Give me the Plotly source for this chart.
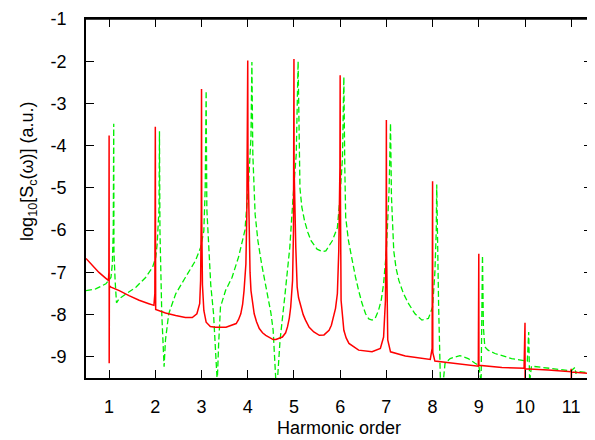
import plotly.graph_objects as go

# Red (solid) spectrum: harmonic order vs log10 S_c
red_x = [0.50, 0.64, 0.78, 0.93, 0.985, 0.995, 1.000, 1.002, 1.006, 1.04, 1.22, 1.43, 1.65, 1.86, 1.97, 1.99,
         2.000, 2.008, 2.22, 2.44, 2.65, 2.80, 2.90, 2.96, 2.98, 2.995, 3.000, 3.005, 3.02, 3.05, 3.10, 3.19,
         3.30, 3.53, 3.75, 3.80, 3.85, 3.89, 3.92, 3.94, 3.96, 3.98, 3.995, 4.000, 4.005, 4.03, 4.05, 4.07,
         4.10, 4.14, 4.19, 4.25, 4.32, 4.39, 4.55, 4.61, 4.75, 4.82, 4.86, 4.90, 4.93, 4.95, 4.97, 4.99,
         4.997, 5.000, 5.003, 5.04, 5.055, 5.07, 5.10, 5.15, 5.20, 5.25, 5.33, 5.43, 5.55, 5.65, 5.76, 5.81,
         5.86, 5.90, 5.94, 5.97, 5.995, 6.000, 6.005, 6.02, 6.05, 6.08, 6.13, 6.19, 6.40, 6.69, 6.87, 6.94,
         6.98, 6.995, 7.000, 7.005, 7.03, 7.09, 7.41, 7.95, 7.99, 8.000, 8.005, 8.05, 8.13, 8.50, 8.99, 9.000,
         9.003, 9.50, 9.98, 10.000, 10.002, 10.006, 10.50, 10.995, 11.000, 11.003, 11.006, 11.45]
red_y = [-6.67, -6.84, -7.00, -7.14, -7.19, -7.00, -3.76, -9.15, -7.32, -7.35, -7.43, -7.55, -7.66, -7.74, -7.78, -7.50,
         -3.55, -7.88, -7.96, -8.02, -8.07, -8.07, -7.98, -7.74, -7.19, -5.50, -2.66, -5.80, -7.30, -7.90, -8.18, -8.28,
         -8.30, -8.30, -8.21, -8.12, -7.98, -7.75, -7.43, -7.15, -6.80, -5.62, -4.00, -1.98, -4.30, -6.41, -7.00, -7.43,
         -7.72, -7.98, -8.17, -8.33, -8.43, -8.49, -8.59, -8.59, -8.53, -8.43, -8.29, -8.08, -7.82, -7.55, -7.19, -6.02,
         -4.50, -1.95, -4.50, -6.41, -6.95, -7.35, -7.60, -7.82, -8.00, -8.13, -8.30, -8.41, -8.49, -8.48, -8.37, -8.25,
         -8.06, -7.85, -7.50, -6.49, -4.50, -2.33, -5.00, -7.66, -8.10, -8.37, -8.55, -8.68, -8.84, -8.88, -8.80, -8.53,
         -7.66, -6.00, -3.39, -6.50, -8.60, -8.88, -8.98, -9.06, -8.80, -4.84, -8.90, -9.10, -9.11, -9.16, -9.22, -6.56,
         -9.20, -9.25, -9.27, -8.19, -9.60, -9.28, -9.31, -9.35, -9.28, -9.60, -9.36, -9.40]

# Green (dashed) spectrum
green_x = [0.50, 0.71, 0.93, 1.04, 1.07, 1.09, 1.10, 1.105, 1.13, 1.16, 1.22, 1.36, 1.58, 1.79, 1.94, 2.01,
           2.04, 2.08, 2.09, 2.10, 2.14, 2.19, 2.22, 2.29, 2.44, 2.65, 2.87, 2.98, 3.05, 3.08, 3.10, 3.115,
           3.20, 3.26, 3.33, 3.34, 3.37, 3.41, 3.52, 3.66, 3.80, 3.94, 4.02, 4.07, 4.09, 4.11, 4.16, 4.22,
           4.30, 4.37, 4.44, 4.50, 4.55, 4.61, 4.64, 4.70, 4.80, 4.91, 4.98, 5.05, 5.09, 5.11, 5.13, 5.17,
           5.23, 5.30, 5.37, 5.50, 5.62, 5.69, 5.83, 5.94, 5.99, 6.05, 6.08, 6.10, 6.12, 6.18, 6.26, 6.33,
           6.40, 6.47, 6.55, 6.62, 6.69, 6.76, 6.83, 6.89, 6.94, 7.00, 7.06, 7.09, 7.11, 7.16, 7.21, 7.27,
           7.37, 7.48, 7.62, 7.77, 7.91, 8.00, 8.05, 8.08, 8.09, 8.11, 8.13, 8.17, 8.23, 8.27, 8.38, 8.59,
           8.77, 8.92, 9.00, 9.05, 9.08, 9.10, 9.13, 9.20, 9.35, 9.71, 9.96, 10.05, 10.08, 10.10, 10.14, 10.50,
           11.00, 11.08, 11.10, 11.12, 11.45]
green_y = [-7.43, -7.39, -7.27, -7.12, -6.80, -6.00, -3.48, -6.50, -7.19, -7.72, -7.62, -7.51, -7.35, -7.12, -6.88, -6.64,
           -6.33, -5.50, -3.66, -6.00, -7.98, -9.23, -8.60, -7.98, -7.51, -7.12, -6.72, -6.41, -6.02, -5.00, -2.70, -5.50,
           -7.30, -7.98, -9.60, -9.60, -8.70, -7.82, -7.43, -7.12, -6.64, -6.00, -4.84, -3.80, -2.02, -4.20, -5.62, -6.25,
           -6.80, -7.22, -7.59, -7.95, -8.37, -9.60, -9.60, -8.60, -7.59, -6.41, -5.23, -4.20, -2.00, -4.00, -5.00, -5.45,
           -5.78, -6.05, -6.25, -6.45, -6.51, -6.49, -6.25, -5.94, -5.31, -4.30, -2.37, -4.50, -5.70, -6.25, -6.72, -7.10,
           -7.43, -7.72, -7.98, -8.10, -8.13, -8.08, -7.90, -7.65, -7.27, -6.49, -5.00, -3.47, -5.20, -6.49, -6.90, -7.19,
           -7.50, -7.74, -7.98, -8.13, -8.09, -7.82, -7.00, -6.00, -4.92, -6.50, -7.74, -9.60, -9.60, -9.15, -9.04, -8.97,
           -9.04, -9.15, -9.20, -9.60, -6.60, -8.30, -8.76, -8.84, -8.92, -9.04, -9.09, -9.10, -8.41, -9.60, -9.22, -9.27,
           -9.33, -9.25, -9.40, -9.34, -9.39]

x_ticks = list(range(1, 12))
y_ticks = [-1, -2, -3, -4, -5, -6, -7, -8, -9]
x_ticklabels = [str(v) for v in x_ticks]
y_ticklabels = [str(v) for v in y_ticks]

FONT = "Liberation Sans, Arial, sans-serif"

fig = go.Figure()
fig.add_trace(go.Scatter(x=green_x, y=green_y, mode="lines",
                         line=dict(color="#00ee00", width=1.3, dash="6px,3px"),
                         showlegend=False, hoverinfo="skip"))
fig.add_trace(go.Scatter(x=red_x, y=red_y, mode="lines",
                         line=dict(color="#ff0000", width=1.5),
                         showlegend=False, hoverinfo="skip"))

axis_common = dict(showgrid=False, zeroline=False, showline=True, linecolor="black", linewidth=1.6,
                   mirror="allticks", ticks="inside", ticklen=8, tickwidth=1.3, tickcolor="black",
                   ticklabeloverflow="allow", tickfont=dict(family=FONT, size=18, color="black"))

fig.update_xaxes(range=[0.5, 11.45], tickvals=x_ticks, ticktext=x_ticklabels,
                 ticklabelstandoff=12, **axis_common)
fig.update_yaxes(range=[-9.5, -1], tickvals=y_ticks, ticktext=y_ticklabels,
                 ticklabelstandoff=14, **axis_common)

# explicit frame edges (top and right)
fig.add_shape(type="line", xref="paper", yref="paper", x0=0, y0=1, x1=1, y1=1,
              line=dict(color="black", width=1.6))
fig.add_shape(type="line", xref="paper", yref="paper", x0=0.995, y0=0, x1=0.995, y1=1,
              line=dict(color="black", width=1.6))

fig.add_annotation(text="log<sub>10</sub>[S<sub>c</sub>(ω)] (a.u.)", xref="paper", yref="paper",
                   x=-0.114, y=0.575, xanchor="center", yanchor="middle", textangle=-90,
                   showarrow=False, font=dict(family=FONT, size=18, color="black"))
fig.add_annotation(text="Harmonic order", xref="paper", yref="paper",
                   x=0.5, y=-0.138, xanchor="center", yanchor="middle",
                   showarrow=False, font=dict(family=FONT, size=18, color="black"))

# page body has an 8px default margin, so the figure is sized/offset to compensate
fig.update_layout(width=587, height=432, margin=dict(l=78, r=1, t=8.5, b=62),
                  paper_bgcolor="white", plot_bgcolor="white")

fig.write_html("out.html")
